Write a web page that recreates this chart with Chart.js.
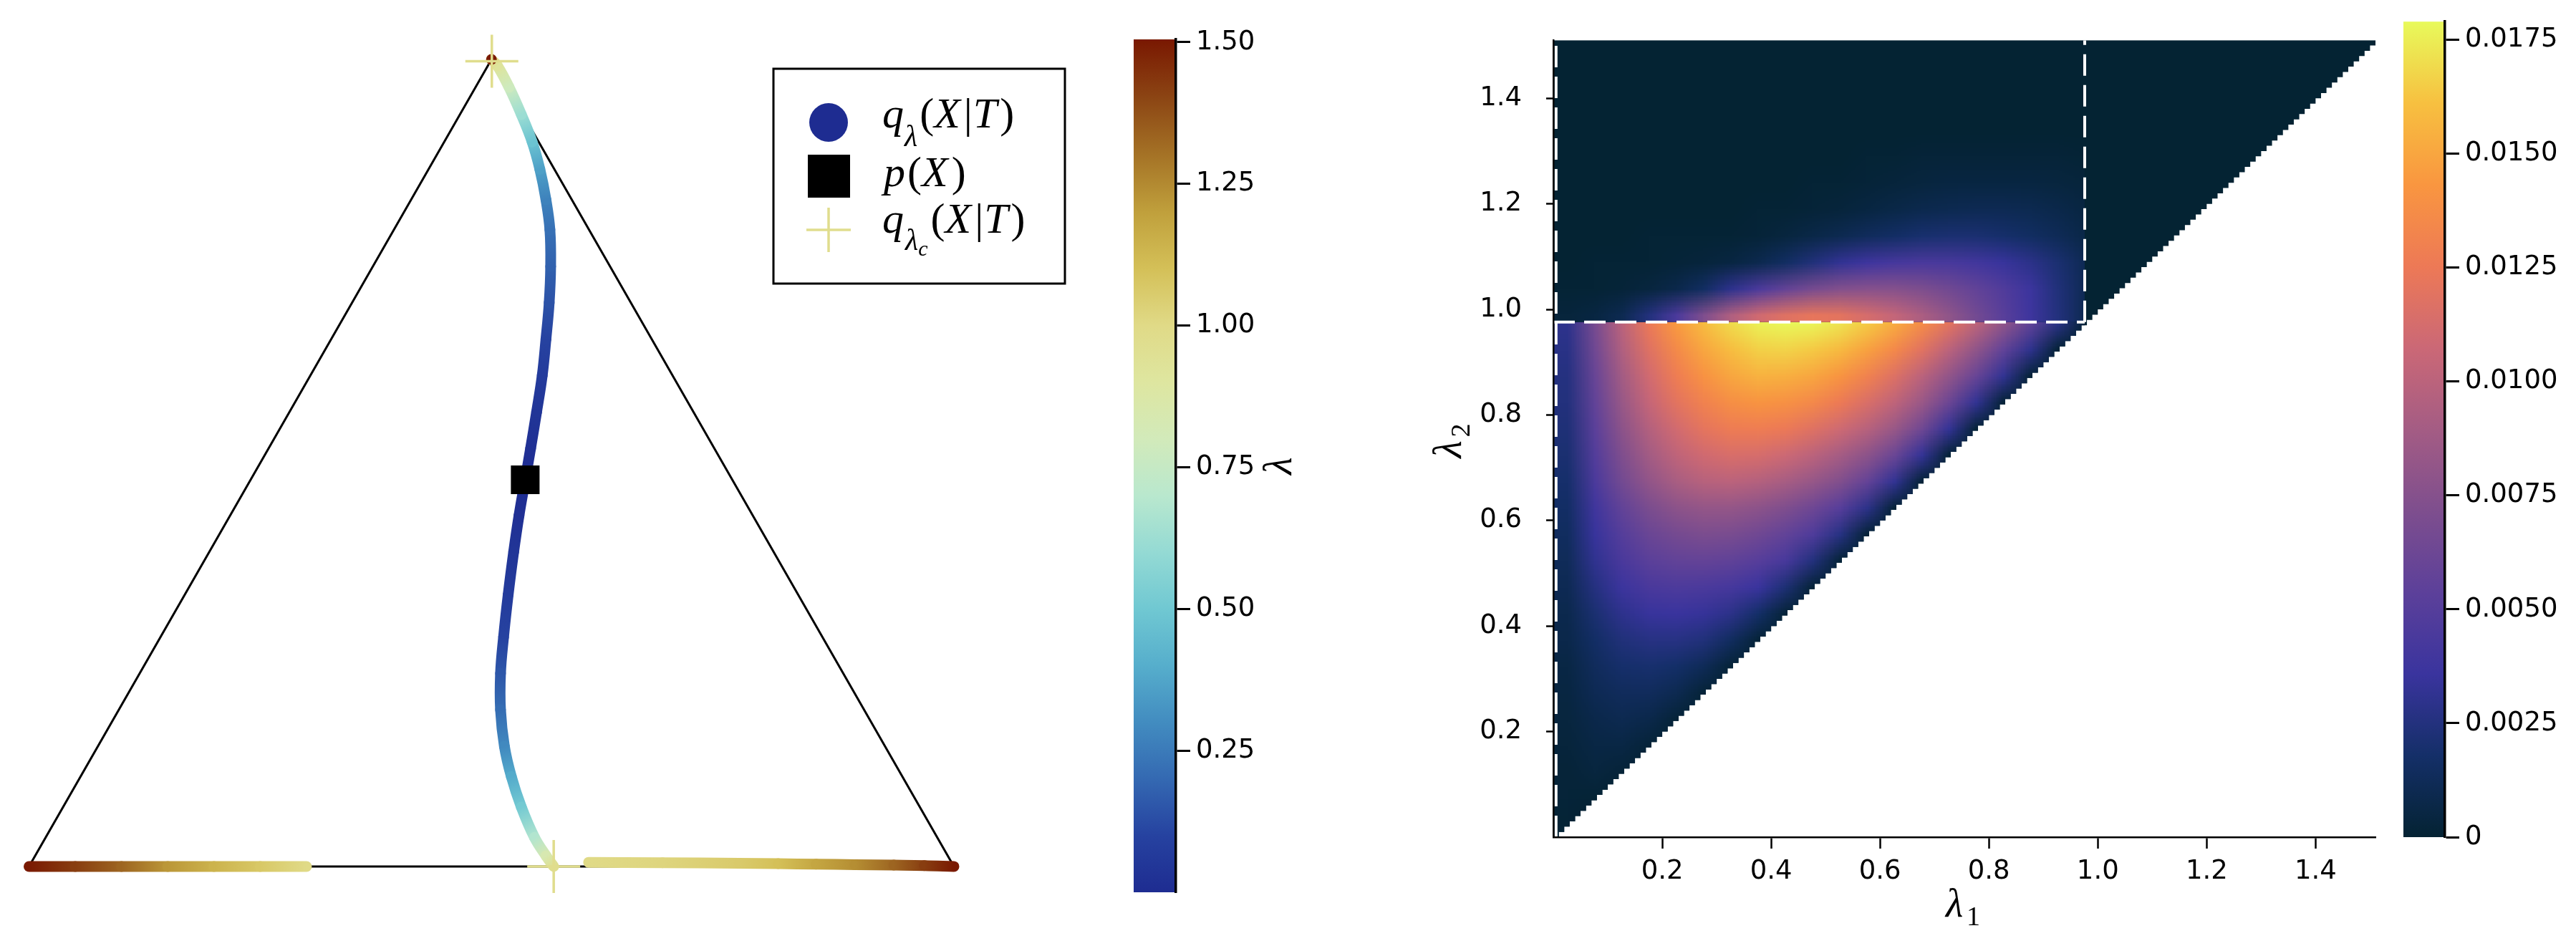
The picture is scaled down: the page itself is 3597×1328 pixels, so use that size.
<!DOCTYPE html>
<html>
<head>
<meta charset="utf-8">
<script src="https://cdn.jsdelivr.net/npm/chart.js@4.4.1/dist/chart.umd.min.js"></script>
<style>
  html, body { margin: 0; padding: 0; background: #fff; }
  body { position: relative; width: 3597px; height: 1328px; overflow: hidden; }
  .panel { position: absolute; top: 0; height: 1328px; }
</style>
</head>
<body>
<div class="panel" style="left:0;width:1540px"><canvas id="simplexChart"></canvas></div>
<div class="panel" style="left:1540px;width:300px"><canvas id="lambdaBar"></canvas></div>
<div class="panel" style="left:1950px;width:1400px"><canvas id="heatChart"></canvas></div>
<div class="panel" style="left:3330px;width:267px"><canvas id="heatBar"></canvas></div>
<script>
// ---- left panel: path of q_lambda(X|T) in the simplex ----
const triangleX = [0, 1, 0.5, 0];
const triangleY = [0, 0, 0.866, 0];

// branch from p(X) up to the top vertex
const upperX = [0.5365, 0.5423, 0.5488, 0.5549, 0.5589, 0.5624, 0.5640, 0.5632, 0.5589, 0.5523, 0.5440, 0.5323, 0.5190, 0.5065, 0.5000];
const upperY = [0.4150, 0.4485, 0.4877, 0.5269, 0.5657, 0.6048, 0.6439, 0.6831, 0.7156, 0.7482, 0.7775, 0.8069, 0.8362, 0.8591, 0.8660];
const upperLam = [0.00, 0.02, 0.04, 0.07, 0.10, 0.14, 0.18, 0.22, 0.27, 0.36, 0.48, 0.62, 0.78, 0.92, 1.00];

// branch from p(X) down to the bottom edge
const lowerX = [0.5365, 0.5298, 0.5240, 0.5181, 0.5131, 0.5098, 0.5098, 0.5140, 0.5215, 0.5323, 0.5465, 0.5590, 0.5673];
const lowerY = [0.4150, 0.3767, 0.3375, 0.2919, 0.2463, 0.2072, 0.1681, 0.1289, 0.0964, 0.0638, 0.0312, 0.0115, 0.0000];
const lowerLam = [0.00, 0.02, 0.04, 0.07, 0.10, 0.15, 0.21, 0.29, 0.39, 0.51, 0.68, 0.84, 0.97];

// pieces lying on the bottom edge (lambda > lambda_c)
const edgeLeftX = [0, 0.05, 0.10, 0.15, 0.20, 0.25, 0.30];
const edgeLeftY = [0, 0, 0, 0, 0, 0, 0];
const edgeLeftLam = [1.50, 1.42, 1.33, 1.22, 1.14, 1.07, 1.00];
const edgeRightX = [0.605, 0.685, 0.768, 0.810, 0.851, 0.893, 0.935, 0.968, 1.000];
const edgeRightY = [0.0045, 0.004, 0.0035, 0.003, 0.0025, 0.002, 0.0015, 0.001, 0];
const edgeRightLam = [1.00, 1.02, 1.06, 1.10, 1.18, 1.24, 1.33, 1.42, 1.50];

const vertexDotX = [0.5];
const vertexDotY = [0.866];
const vertexDotLam = 1.5;

const pXPoint = [0.5365, 0.415];
const critX = [0.5004, 0.5673];
const critY = [0.864, 0];
const lamC = 0.976;

const lamTicks = [0.25, 0.5, 0.75, 1.0, 1.25, 1.5];
const lamMin = 0, lamMax = 1.505;
const lamStops = [0, 0.1, 0.2, 0.3, 0.4, 0.5, 0.6, 0.7, 0.8, 0.9, 1.0, 1.1, 1.2, 1.3, 1.4, 1.5];
const lamColors = [[30,44,145],[38,66,160],[52,105,178],[66,140,192],[86,174,204],[112,200,210],[148,218,212],[185,232,206],
                   [210,234,186],[222,230,160],[224,218,135],[212,192,88],[192,160,60],[165,115,38],[140,70,20],[122,26,2]];

// ---- right panel: heat map over (lambda1, lambda2), values in units of 1e-4 ----
const heatUnit = 1e-4;
const heatMax = 0.0179;
const axisMax = 1.51;
const stairStep = 0.01;
const heatCols = [0.025, 0.075, 0.125, 0.175, 0.225, 0.275, 0.325, 0.375, 0.425, 0.475,
                  0.525, 0.575, 0.625, 0.675, 0.725, 0.775, 0.825, 0.875, 0.925, 0.975];
// below lambda2 = lambda_c (rows listed top to bottom)
const heatBelowY = [0.975, 0.925, 0.875, 0.825, 0.775, 0.725, 0.675, 0.625, 0.575, 0.525,
                    0.475, 0.425, 0.375, 0.325, 0.275, 0.225, 0.175, 0.125, 0.075, 0.025];
const heatBelow = [
  [30, 68, 100, 125, 145, 159, 169, 176, 178, 177, 172, 164, 152, 137, 120, 101, 80, 56, 28, 2],
  [28, 64, 95, 118, 136, 150, 160, 166, 167, 164, 158, 148, 135, 119, 100, 80, 57, 30, 2, 0],
  [26, 60, 89, 111, 128, 141, 150, 155, 154, 150, 142, 131, 117, 100, 81, 60, 32, 2, 0, 0],
  [25, 57, 84, 105, 120, 131, 139, 142, 140, 135, 126, 115, 102, 85, 62, 32, 2, 0, 0, 0],
  [23, 53, 78, 97, 111, 121, 127, 128, 125, 118, 109, 98, 84, 64, 33, 2, 0, 0, 0, 0],
  [21, 49, 72, 89, 102, 110, 114, 113, 108, 100, 90, 78, 61, 33, 2, 0, 0, 0, 0, 0],
  [19, 45, 66, 81, 92, 98, 100, 97, 91, 83, 73, 58, 32, 2, 0, 0, 0, 0, 0, 0],
  [17, 39, 57, 70, 78, 82, 82, 78, 72, 63, 51, 29, 2, 0, 0, 0, 0, 0, 0, 0],
  [15, 35, 50, 61, 67, 70, 69, 64, 57, 47, 27, 2, 0, 0, 0, 0, 0, 0, 0, 0],
  [13, 31, 44, 53, 57, 58, 56, 51, 43, 25, 2, 0, 0, 0, 0, 0, 0, 0, 0, 0],
  [11, 26, 37, 44, 46, 45, 42, 36, 22, 2, 0, 0, 0, 0, 0, 0, 0, 0, 0, 0],
  [9, 21, 30, 35, 36, 34, 29, 18, 2, 0, 0, 0, 0, 0, 0, 0, 0, 0, 0, 0],
  [8, 17, 24, 27, 27, 24, 15, 2, 0, 0, 0, 0, 0, 0, 0, 0, 0, 0, 0, 0],
  [6, 14, 19, 20, 18, 12, 2, 0, 0, 0, 0, 0, 0, 0, 0, 0, 0, 0, 0, 0],
  [5, 11, 14, 14, 10, 2, 0, 0, 0, 0, 0, 0, 0, 0, 0, 0, 0, 0, 0, 0],
  [4, 8, 10, 8, 2, 0, 0, 0, 0, 0, 0, 0, 0, 0, 0, 0, 0, 0, 0, 0],
  [3, 6, 6, 2, 0, 0, 0, 0, 0, 0, 0, 0, 0, 0, 0, 0, 0, 0, 0, 0],
  [2, 4, 2, 0, 0, 0, 0, 0, 0, 0, 0, 0, 0, 0, 0, 0, 0, 0, 0, 0],
  [2, 1, 0, 0, 0, 0, 0, 0, 0, 0, 0, 0, 0, 0, 0, 0, 0, 0, 0, 0],
  [1, 0, 0, 0, 0, 0, 0, 0, 0, 0, 0, 0, 0, 0, 0, 0, 0, 0, 0, 0]
];
// above lambda2 = lambda_c (rows listed top to bottom)
const heatAboveY = [1.34, 1.29, 1.24, 1.19, 1.14, 1.09, 1.04, 0.99];
const heatAbove = [
  [0, 0, 0, 0, 0, 0, 0, 0, 0, 0, 0, 0, 0, 0, 0, 0, 0, 0, 0, 0],
  [0, 0, 0, 0, 0, 0, 0, 0, 0, 0, 0, 1, 1, 2, 2, 2, 2, 2, 2, 1],
  [0, 0, 0, 0, 0, 0, 0, 0, 0, 1, 1, 2, 3, 4, 5, 5, 5, 5, 4, 3],
  [0, 0, 0, 0, 0, 0, 0, 1, 1, 2, 3, 5, 7, 9, 10, 11, 11, 10, 8, 5],
  [0, 0, 0, 1, 1, 1, 1, 2, 4, 7, 10, 14, 17, 20, 21, 21, 19, 16, 12, 7],
  [0, 1, 1, 1, 2, 3, 5, 9, 16, 24, 32, 38, 42, 44, 43, 40, 35, 29, 21, 11],
  [1, 1, 2, 4, 8, 16, 30, 45, 58, 68, 74, 76, 75, 71, 65, 57, 48, 37, 24, 11],
  [3, 5, 10, 25, 45, 72, 95, 110, 118, 122, 120, 113, 104, 93, 80, 66, 52, 38, 25, 10]
];
const heatTicks = [0.2, 0.4, 0.6, 0.8, 1.0, 1.2, 1.4];
const heatBarTicks = [0, 0.0025, 0.005, 0.0075, 0.01, 0.0125, 0.015, 0.0175];
const dashLeftX = 0.005;

const thermalStops = [0, 0.1, 0.2, 0.3, 0.4, 0.5, 0.6, 0.7, 0.8, 0.9, 1.0];
const thermalColors = [[4,35,51],[20,47,104],[58,52,158],[92,64,154],[126,78,142],[164,92,132],
                       [203,104,118],[237,121,86],[249,150,64],[247,192,64],[232,250,91]];

Chart.defaults.color = '#000';
Chart.defaults.font.family = 'DejaVu Sans';

const tickFont = { family: 'DejaVu Sans', size: 37 };
const SERIF = '"Liberation Serif", "DejaVu Serif", serif';

function mix(stops, colors, v) {
  if (v <= stops[0]) return colors[0];
  for (let i = 1; i < stops.length; i++) {
    if (v <= stops[i]) {
      const f = (v - stops[i - 1]) / (stops[i] - stops[i - 1]);
      const a = colors[i - 1], b = colors[i];
      return [0, 1, 2].map(k => Math.round(a[k] + (b[k] - a[k]) * f));
    }
  }
  return colors[colors.length - 1];
}
const rgb = c => `rgb(${c[0]},${c[1]},${c[2]})`;
const lamColor = v => rgb(mix(lamStops, lamColors, v));
const heatColor = v => mix(thermalStops, thermalColors, v * heatUnit / heatMax);

// a thick path whose colour follows lambda, one gradient per segment
function branch(xs, ys, lams, order) {
  return {
    type: 'line',
    order,
    data: xs.map((x, i) => ({ x, y: ys[i] })),
    borderWidth: 15,
    borderCapStyle: 'round',
    borderJoinStyle: 'round',
    pointRadius: 0,
    pointHitRadius: 0,
    tension: 0.4,
    fill: false,
    clip: false,
    segment: {
      borderColor: c => {
        const g = c.chart.ctx.createLinearGradient(c.p0.x, c.p0.y, c.p1.x, c.p1.y);
        g.addColorStop(0, lamColor(lams[c.p0DataIndex]));
        g.addColorStop(1, lamColor(lams[c.p1DataIndex]));
        return g;
      },
      borderDashOffset: c => c.p0DataIndex
    }
  };
}

// math-like label: runs of [text, font, baseline shift, gap before]
function drawRuns(ctx, x, y, runs) {
  runs.forEach(([text, font, dy, gap]) => {
    ctx.font = font;
    x += gap || 0;
    ctx.fillText(text, x, y + dy);
    x += ctx.measureText(text).width;
  });
}

const simplexLegend = {
  id: 'simplexLegend',
  afterDraw(chart) {
    const ctx = chart.ctx;
    const IT = `italic 60px ${SERIF}`, RM = `60px ${SERIF}`, SUB = `italic 42px ${SERIF}`, SUB2 = `italic 30px ${SERIF}`;
    ctx.save();
    ctx.fillStyle = '#fff';
    ctx.fillRect(1080, 96, 407, 300);
    ctx.strokeStyle = '#000';
    ctx.lineWidth = 3;
    ctx.strokeRect(1080, 96, 407, 300);

    ctx.fillStyle = lamColor(0);
    ctx.beginPath();
    ctx.arc(1157, 171, 27, 0, Math.PI * 2);
    ctx.fill();
    ctx.fillStyle = '#000';
    ctx.fillRect(1128, 216, 59, 60);
    ctx.strokeStyle = lamColor(lamC);
    ctx.lineWidth = 3.5;
    ctx.beginPath();
    ctx.moveTo(1126, 321); ctx.lineTo(1188, 321);
    ctx.moveTo(1157, 290); ctx.lineTo(1157, 352);
    ctx.stroke();

    ctx.fillStyle = '#000';
    ctx.textAlign = 'left';
    ctx.textBaseline = 'alphabetic';
    drawRuns(ctx, 1232, 178, [['q', IT, 0], ['λ', SUB, 26, 1], ['(', RM, 0, 3], ['X', IT, 0], ['|', RM, 0, 5], ['T', IT, 0, 1], [')', RM, 0, 4]]);
    drawRuns(ctx, 1234, 260, [['p', IT, 0], ['(', RM, 0, 3], ['X', IT, 0], [')', RM, 0, 5]]);
    drawRuns(ctx, 1232, 325, [['q', IT, 0], ['λ', SUB, 24, 2], ['c', SUB2, 32, 0], ['(', RM, 0, 4], ['X', IT, 0], ['|', RM, 0, 5],
                              ['T', IT, 0, 1], [')', RM, 0, 4]]);
    ctx.restore();
  }
};

new Chart(document.getElementById('simplexChart'), {
  type: 'scatter',
  data: {
    datasets: [
      {
        type: 'line', order: 10,
        data: triangleX.map((x, i) => ({ x, y: triangleY[i] })),
        borderColor: '#000', borderWidth: 3, pointRadius: 0, tension: 0, fill: false, clip: false
      },
      branch(edgeLeftX, edgeLeftY, edgeLeftLam, 8),
      branch(edgeRightX, edgeRightY, edgeRightLam, 8),
      branch(lowerX, lowerY, lowerLam, 6),
      branch(upperX, upperY, upperLam, 6),
      {
        order: 5, clip: false,
        data: vertexDotX.map((x, i) => ({ x, y: vertexDotY[i] })),
        pointStyle: 'circle', pointRadius: 7.5, borderWidth: 0,
        backgroundColor: lamColor(vertexDotLam)
      },
      {
        order: 2, clip: false,
        data: critX.map((x, i) => ({ x, y: critY[i] })),
        pointStyle: 'cross', pointRadius: 37, borderWidth: 3.5,
        borderColor: lamColor(lamC)
      },
      {
        order: 1, clip: false,
        data: [{ x: pXPoint[0], y: pXPoint[1] }],
        pointStyle: 'rect', pointRadius: 28.3, borderWidth: 0,
        backgroundColor: '#000'
      }
    ]
  },
  options: {
    responsive: true,
    maintainAspectRatio: false,
    animation: false,
    events: [],
    layout: { padding: { left: 32.5, right: 208, top: 83, bottom: 118 } },
    scales: {
      x: { type: 'linear', min: 0, max: 1, display: false },
      y: { type: 'linear', min: 0, max: 0.866, display: false }
    },
    plugins: { legend: { display: false }, tooltip: { enabled: false } }
  },
  plugins: [simplexLegend]
});

// ---- colorbar helpers ----
function gradientBar(stops, colorAt) {
  return {
    id: 'gradientBar',
    beforeDatasetsDraw(chart) {
      const { ctx, chartArea: a, scales: { y } } = chart;
      const g = ctx.createLinearGradient(0, y.getPixelForValue(y.min), 0, y.getPixelForValue(y.max));
      stops.forEach(v => g.addColorStop(Math.min(1, Math.max(0, (v - y.min) / (y.max - y.min))), colorAt(v)));
      ctx.save();
      ctx.fillStyle = g;
      ctx.fillRect(a.left, a.top, a.right - a.left, a.bottom - a.top);
      ctx.restore();
    }
  };
}

function barScale(min, max, ticks, fmt, width) {
  return {
    type: 'linear',
    position: 'right',
    min, max,
    afterBuildTicks: s => { s.ticks = ticks.map(v => ({ value: v })); },
    afterFit: s => { s.width = width; },
    ticks: { font: tickFont, color: '#000', padding: 8, callback: fmt },
    grid: { display: true, drawOnChartArea: false, drawTicks: true, tickLength: 20, tickWidth: 3, tickColor: '#000', z: 1 },
    border: { display: true, color: '#000', width: 3.5, z: 1 }
  };
}

const lambdaLabel = {
  id: 'lambdaLabel',
  afterDraw(chart) {
    const { ctx, chartArea: a } = chart;
    ctx.save();
    ctx.translate(a.right + 161, (a.top + a.bottom) / 2);
    ctx.rotate(-Math.PI / 2);
    ctx.fillStyle = '#000';
    ctx.textBaseline = 'alphabetic';
    ctx.textAlign = 'center';
    ctx.font = `italic 56px ${SERIF}`;
    ctx.fillText('λ', 0, 0);
    ctx.restore();
  }
};

new Chart(document.getElementById('lambdaBar'), {
  type: 'scatter',
  data: { datasets: [] },
  options: {
    responsive: true, maintainAspectRatio: false, animation: false, events: [],
    layout: { padding: { left: 43, right: 48, top: 55, bottom: 82 } },
    scales: {
      x: { type: 'linear', display: false, min: 0, max: 1 },
      y: barScale(lamMin, lamMax, lamTicks, v => v.toFixed(2), 150)
    },
    plugins: { legend: { display: false }, tooltip: { enabled: false } }
  },
  plugins: [gradientBar(lamStops, lamColor), lambdaLabel]
});

// ---- heat map ----
function heatImage(rows) {
  const h = rows.length, w = rows[0].length;
  const off = document.createElement('canvas');
  off.width = w + 2; off.height = h + 2;
  const octx = off.getContext('2d');
  const img = octx.createImageData(w + 2, h + 2);
  for (let r = 0; r < h + 2; r++) {
    for (let c = 0; c < w + 2; c++) {
      const rr = Math.min(h - 1, Math.max(0, r - 1)), cc = Math.min(w - 1, Math.max(0, c - 1));
      const col = heatColor(rows[rr][cc]);
      const i = (r * (w + 2) + c) * 4;
      img.data[i] = col[0]; img.data[i + 1] = col[1]; img.data[i + 2] = col[2]; img.data[i + 3] = 255;
    }
  }
  octx.putImageData(img, 0, 0);
  return off;
}

function drawBlock(ctx, x, y, rows, rowY, yLo, yHi) {
  const hx = (heatCols[1] - heatCols[0]) / 2;
  const hy = Math.abs(rowY[0] - rowY[1]) / 2;
  // one extra (padding) cell on each side
  const left = x.getPixelForValue(heatCols[0] - 3 * hx);
  const right = x.getPixelForValue(heatCols[heatCols.length - 1] + 3 * hx);
  const top = y.getPixelForValue(rowY[0] + 3 * hy);
  const bottom = y.getPixelForValue(rowY[rowY.length - 1] - 3 * hy);
  const cx0 = x.getPixelForValue(0), cx1 = x.getPixelForValue(lamC);
  const cy0 = y.getPixelForValue(yHi), cy1 = y.getPixelForValue(yLo);
  ctx.save();
  ctx.beginPath();
  ctx.rect(cx0, cy0, cx1 - cx0, cy1 - cy0);
  ctx.clip();
  ctx.imageSmoothingEnabled = true;
  ctx.drawImage(heatImage(rows), left, top, right - left, bottom - top);
  ctx.restore();
}

const heatPlugin = {
  id: 'heatPlugin',
  beforeDatasetsDraw(chart) {
    const { ctx, scales: { x, y } } = chart;
    const n = Math.round(axisMax / stairStep);
    ctx.save();
    ctx.beginPath();
    ctx.moveTo(x.getPixelForValue(0), y.getPixelForValue(0));
    for (let k = 0; k < n; k++) {
      const a = k * stairStep, b = (k + 1) * stairStep;
      ctx.lineTo(x.getPixelForValue(b), y.getPixelForValue(a));
      ctx.lineTo(x.getPixelForValue(b), y.getPixelForValue(b));
    }
    ctx.lineTo(x.getPixelForValue(0), y.getPixelForValue(axisMax));
    ctx.closePath();
    ctx.clip();
    ctx.fillStyle = rgb(heatColor(0));
    ctx.fillRect(x.getPixelForValue(0), y.getPixelForValue(axisMax),
                 x.getPixelForValue(axisMax) - x.getPixelForValue(0), y.getPixelForValue(0) - y.getPixelForValue(axisMax));
    drawBlock(ctx, x, y, heatBelow, heatBelowY, 0, lamC);
    drawBlock(ctx, x, y, heatAbove, heatAboveY, lamC, axisMax);
    ctx.restore();
  },
  afterDraw(chart) {
    const { ctx, chartArea: a } = chart;
    ctx.save();
    ctx.fillStyle = '#000';
    ctx.textBaseline = 'alphabetic';
    ctx.textAlign = 'left';
    const cx = (a.left + a.right) / 2;
    ctx.font = `italic 56px ${SERIF}`;
    ctx.fillText('λ', cx - 26, a.bottom + 111);
    ctx.font = `38px ${SERIF}`;
    ctx.fillText('1', cx + 3, a.bottom + 123);
    ctx.translate(a.left - 129, (a.top + a.bottom) / 2);
    ctx.rotate(-Math.PI / 2);
    ctx.font = `italic 56px ${SERIF}`;
    ctx.fillText('λ', -27, 0);
    ctx.font = `38px ${SERIF}`;
    ctx.fillText('2', 2, 12);
    ctx.restore();
  }
};

function dashed(points) {
  return {
    type: 'line', data: points, showLine: true,
    borderColor: '#fff', borderWidth: 4, borderDash: [30, 13],
    pointRadius: 0, tension: 0, fill: false
  };
}

function heatAxis(size, tickLength, padding) {
  return {
    type: 'linear',
    min: 0, max: axisMax,
    afterBuildTicks: s => { s.ticks = heatTicks.map(v => ({ value: v })); },
    afterFit: s => { if (s.isHorizontal()) s.height = size; else s.width = size; },
    ticks: { font: tickFont, color: '#000', padding, maxRotation: 0, autoSkip: false, callback: v => v.toFixed(1) },
    grid: { display: true, drawOnChartArea: false, drawTicks: true, tickLength, tickWidth: 2.5, tickColor: '#000', z: 1 },
    border: { display: true, color: '#000', width: 2.5, z: 1 }
  };
}

new Chart(document.getElementById('heatChart'), {
  type: 'scatter',
  data: {
    datasets: [
      dashed([{ x: dashLeftX, y: 0 }, { x: dashLeftX, y: axisMax }]),
      dashed([{ x: 0, y: lamC }, { x: lamC, y: lamC }]),
      dashed([{ x: lamC, y: lamC }, { x: lamC, y: axisMax }])
    ]
  },
  options: {
    responsive: true, maintainAspectRatio: false, animation: false, events: [],
    layout: { padding: { left: 0, right: 33, top: 21, bottom: 0 } },
    scales: {
      x: { ...heatAxis(159, 16, 10), position: 'bottom' },
      y: { ...heatAxis(219, 10, 34), position: 'left' }
    },
    plugins: { legend: { display: false }, tooltip: { enabled: false } }
  },
  plugins: [heatPlugin]
});

new Chart(document.getElementById('heatBar'), {
  type: 'scatter',
  data: { datasets: [] },
  options: {
    responsive: true, maintainAspectRatio: false, animation: false, events: [],
    layout: { padding: { left: 26, right: 0, top: 21, bottom: 159 } },
    scales: {
      x: { type: 'linear', display: false, min: 0, max: 1 },
      y: barScale(0, heatMax, heatBarTicks, v => (v === 0 ? '0' : v.toFixed(4)), 183)
    },
    plugins: { legend: { display: false }, tooltip: { enabled: false } }
  },
  plugins: [gradientBar(thermalStops.map(t => t * heatMax), v => rgb(mix(thermalStops, thermalColors, v / heatMax)))]
});
</script>
</body>
</html>
